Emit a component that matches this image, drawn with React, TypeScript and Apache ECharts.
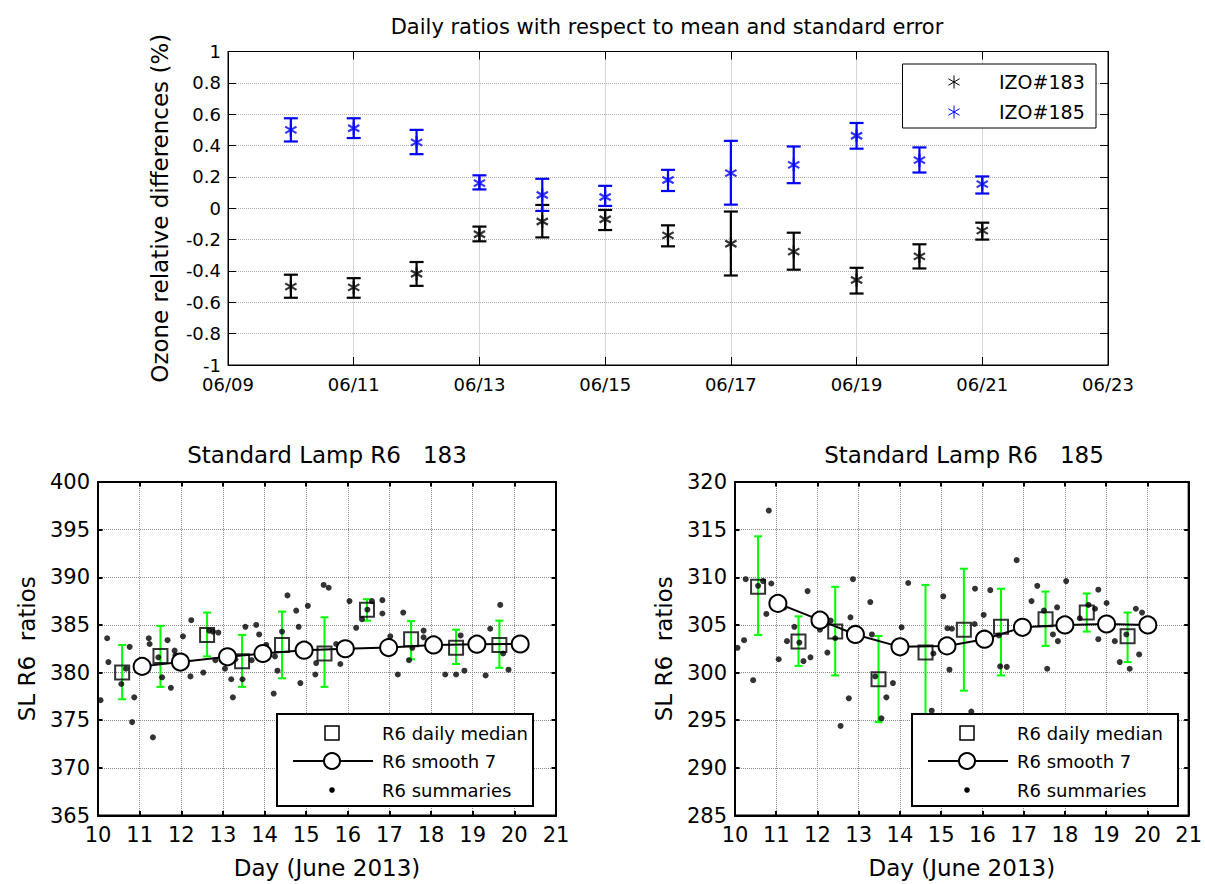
import React, { useEffect, useRef } from 'react';
import * as echarts from 'echarts';

const FONT = 'DejaVu Sans';

// ---------- Top panel: daily ratios ----------
const topTickLabels = ['06/09', '06/11', '06/13', '06/15', '06/17', '06/19', '06/21', '06/23'];
const topFirstDay = 9;
const topDays = [10, 11, 12, 13, 14, 15, 16, 17, 18, 19, 20, 21];
const izo183 = [-0.5, -0.505, -0.418, -0.166, -0.085, -0.07, -0.173, -0.226, -0.277, -0.458, -0.307, -0.143];
const izo183Lo = [-0.571, -0.571, -0.495, -0.211, -0.186, -0.139, -0.243, -0.429, -0.392, -0.544, -0.384, -0.2];
const izo183Hi = [-0.424, -0.446, -0.343, -0.117, 0.021, -0.011, -0.109, -0.021, -0.156, -0.38, -0.23, -0.092];
const izo185 = [0.5, 0.51, 0.42, 0.16, 0.085, 0.072, 0.18, 0.224, 0.277, 0.463, 0.307, 0.154];
const izo185Lo = [0.426, 0.448, 0.345, 0.12, -0.017, 0.015, 0.11, 0.023, 0.16, 0.38, 0.228, 0.094];
const izo185Hi = [0.574, 0.574, 0.5, 0.21, 0.188, 0.143, 0.245, 0.43, 0.394, 0.544, 0.388, 0.203];

// ---------- Bottom-left: Standard Lamp R6 183 ----------
const medDay183 = [10.58, 11.5, 12.62, 13.46, 14.42, 15.44, 16.46, 17.52, 18.6, 19.64];
const med183 = [380.0, 381.75, 383.95, 381.2, 382.9, 382.0, 386.6, 383.5, 382.6, 382.9];
const med183Lo = [377.2, 378.5, 381.7, 378.5, 379.4, 378.5, 385.45, 381.4, 380.9, 380.5];
const med183Hi = [382.9, 384.9, 386.3, 383.95, 386.4, 385.8, 387.7, 385.4, 384.5, 385.45];
const smDay183 = [11.06, 11.98, 13.11, 13.96, 14.95, 15.94, 16.98, 18.06, 19.1, 20.14];
const sm183 = [380.65, 381.1, 381.65, 382.0, 382.35, 382.5, 382.62, 382.9, 382.98, 383.0];
const sumDay183 = [
  10.06, 10.22, 10.25, 10.56, 10.67, 10.76, 10.82, 10.87, 11.22, 11.24, 11.32, 11.45, 11.54, 11.67,
  11.75, 11.84, 11.86, 12.04, 12.22, 12.24, 12.53, 12.67, 12.76, 12.82, 12.89, 13.05, 13.2, 13.24,
  13.3, 13.47, 13.54, 13.69, 13.8, 13.87, 14.04, 14.22, 14.25, 14.31, 14.42, 14.55, 14.76, 14.82,
  14.86, 15.04, 15.22, 15.24, 15.42, 15.54, 15.72, 15.82, 15.94, 16.04, 16.2, 16.34, 16.47, 16.58,
  16.83, 16.83, 17.02, 17.2, 17.33, 17.47, 17.55, 17.82, 17.82, 18.02, 18.16, 18.34, 18.6, 18.71,
  18.8, 19.31, 19.42, 19.66, 19.73, 19.86,
];
const sumVal183 = [
  377.1, 383.6, 381.1, 378.8, 380.4, 382.7, 374.8, 377.4, 383.6, 383.0, 373.2, 381.6, 379.5, 383.4,
  378.4, 382.3, 381.8, 383.8, 379.6, 385.5, 380.0, 384.4, 384.3, 381.3, 384.2, 380.4, 379.3, 377.4,
  381.4, 379.3, 384.8, 381.3, 385.0, 384.0, 382.9, 377.8, 381.7, 380.2, 384.3, 388.1, 386.5, 384.8,
  378.9, 387.0, 379.8, 381.0, 389.2, 388.9, 383.0, 380.9, 382.3, 387.5, 384.7, 385.6, 386.6, 387.5,
  387.6, 386.2, 383.8, 379.8, 386.3, 381.3, 382.6, 384.4, 383.7, 383.1, 382.8, 379.8, 379.8, 383.9,
  380.2, 379.7, 384.6, 387.1, 382.0, 380.3,
];

// ---------- Bottom-right: Standard Lamp R6 185 ----------
const medDay185 = [10.56, 11.54, 12.43, 13.48, 14.62, 15.55, 16.45, 17.53, 18.53, 19.52];
const med185 = [309.0, 303.26, 304.3, 299.3, 302.1, 304.5, 304.8, 305.6, 306.3, 303.8];
const med185Lo = [303.95, 300.7, 299.7, 294.8, 295.0, 298.1, 299.7, 302.8, 304.3, 301.1];
const med185Hi = [314.3, 305.9, 309.0, 303.85, 309.2, 310.9, 308.8, 308.5, 308.3, 306.3];
const smDay185 = [11.04, 12.06, 12.92, 14.0, 15.14, 16.05, 16.97, 18.0, 19.01, 20.01];
const sm185 = [307.26, 305.5, 304.0, 302.7, 302.8, 303.5, 304.75, 305.0, 305.1, 305.0];
const sumDay185 = [
  10.06, 10.22, 10.26, 10.44, 10.56, 10.68, 10.76, 10.82, 10.88, 11.06, 11.2, 11.26, 11.44, 11.56,
  11.66, 11.76, 11.83, 12.06, 12.16, 12.24, 12.32, 12.43, 12.56, 12.76, 12.8, 12.86, 13.28, 13.32,
  13.4, 13.55, 13.67, 13.83, 14.04, 14.2, 14.77, 14.81, 15.05, 15.15, 15.2, 15.26, 15.73, 15.81,
  15.82, 16.03, 16.19, 16.4, 16.43, 16.59, 16.83, 17.19, 17.33, 17.49, 17.57, 17.71, 17.81, 17.83,
  18.03, 18.36, 18.57, 18.73, 18.81, 18.81, 19.01, 19.21, 19.33, 19.49, 19.57, 19.72, 19.8, 19.87,
];
const sumVal185 = [
  302.6, 303.4, 309.8, 299.2, 309.1, 309.6, 306.15, 317.0, 309.35, 301.4, 306.85, 303.3, 304.8, 303.15,
  301.2, 308.55, 301.6, 304.5, 305.2, 302.1, 305.45, 303.6, 294.4, 297.3, 305.8, 309.8, 307.4, 304.0,
  299.6, 295.2, 297.4, 298.9, 304.75, 309.4, 296.0, 302.0, 308.0, 304.65, 300.3, 304.6, 295.9, 305.1,
  308.8, 306.05, 308.65, 303.9, 300.65, 300.6, 311.8, 307.5, 309.1, 306.5, 300.4, 304.0, 306.85, 303.3,
  309.6, 305.7, 307.1, 306.7, 303.5, 308.7, 307.3, 303.3, 301.1, 304.0, 300.4, 306.7, 301.9, 306.3,
];

const ASTERISK = 'path://M0,-13L0,13M-11.26,-6.5L11.26,6.5M-11.26,6.5L11.26,-6.5';

const errBar = (color: string, lw: number, cap: number) => (_params: any, api: any) => {
  const x = api.value(0);
  const a = api.coord([x, api.value(1)]);
  const b = api.coord([x, api.value(2)]);
  const st = { stroke: color, lineWidth: lw, fill: null };
  return {
    type: 'group',
    children: [
      { type: 'line', shape: { x1: a[0], y1: a[1], x2: b[0], y2: b[1] }, style: st },
      { type: 'line', shape: { x1: a[0] - cap / 2, y1: a[1], x2: a[0] + cap / 2, y2: a[1] }, style: st },
      { type: 'line', shape: { x1: b[0] - cap / 2, y1: b[1], x2: b[0] + cap / 2, y2: b[1] }, style: st },
    ],
  };
};

const mainAxis = (lw: number, tickLen: number, gridColor: string, fontSize: number, margin: number) => ({
  axisLine: { show: true, onZero: false, lineStyle: { color: '#000', width: lw } },
  axisTick: { show: true, inside: true, length: tickLen, lineStyle: { color: '#000', width: lw } },
  axisLabel: { show: true, color: '#000', fontFamily: FONT, fontSize, margin, showMinLabel: true, showMaxLabel: true },
  splitLine: { show: true, lineStyle: { type: 'dotted', color: gridColor, width: 1 } },
});

const sideAxis = (lw: number, tickLen: number) => ({
  axisLine: { show: true, onZero: false, lineStyle: { color: '#000', width: lw } },
  axisTick: { show: true, inside: true, length: tickLen, lineStyle: { color: '#000', width: lw } },
  axisLabel: { show: false },
  splitLine: { show: false },
});

const zz = 100;
const asteriskLines = (cx: number, cy: number, color: string) => {
  const st = { stroke: color, lineWidth: 1 };
  return [
    { type: 'line', z: zz, shape: { x1: cx, y1: cy - 6.5, x2: cx, y2: cy + 6.5 }, style: st },
    { type: 'line', z: zz, shape: { x1: cx - 5.6, y1: cy - 3.25, x2: cx + 5.6, y2: cy + 3.25 }, style: st },
    { type: 'line', z: zz, shape: { x1: cx - 5.6, y1: cy + 3.25, x2: cx + 5.6, y2: cy - 3.25 }, style: st },
  ];
};

const legendText = (x: number, y: number, text: string, size: number) => ({
  type: 'text',
  z: zz,
  x,
  y,
  style: { text, fill: '#000', fontFamily: FONT, fontSize: size, align: 'left', verticalAlign: 'middle' },
});

const slLegend = (x: number, y: number, w: number) => ({
  type: 'group',
  x,
  y,
  z: zz,
  children: [
    { type: 'rect', z: zz, shape: { x: 0, y: 0, width: w, height: 92 }, style: { fill: '#fff', stroke: '#000', lineWidth: 2 } },
    { type: 'rect', z: zz, shape: { x: 55 - 7, y: 19 - 7, width: 14, height: 14 }, style: { fill: 'none', stroke: '#000', lineWidth: 1.5 } },
    { type: 'line', z: zz, shape: { x1: 16, y1: 47, x2: 96, y2: 47 }, style: { stroke: '#000', lineWidth: 2 } },
    { type: 'circle', z: zz + 1, shape: { cx: 55, cy: 47, r: 8 }, style: { fill: '#fff', stroke: '#000', lineWidth: 2 } },
    { type: 'circle', z: zz, shape: { cx: 55, cy: 76, r: 2.8 }, style: { fill: '#000' } },
    legendText(105, 19, 'R6 daily median', 18),
    legendText(105, 47, 'R6 smooth 7', 18),
    legendText(105, 76, 'R6 summaries', 18),
  ],
});

function buildOption() {
  const titleStyle = (size: number) => ({ fontFamily: FONT, fontSize: size, fontWeight: 'normal', color: '#000' });
  const zip = (xs: number[], ys: number[]) => xs.map((x, i) => [x, ys[i]]);
  const zip3 = (xs: number[], a: number[], b: number[]) => xs.map((x, i) => [x, a[i], b[i]]);
  const topX = topDays.map((d) => d - topFirstDay);

  const slSeries = (axisIdx: number, md: number[], m: number[], lo: number[], hi: number[], sd: number[], s: number[], dd: number[], dv: number[]) => [
    {
      type: 'custom',
      xAxisIndex: axisIdx,
      yAxisIndex: axisIdx,
      renderItem: errBar('#00ff00', 2, 8),
      encode: { x: 0, y: [1, 2] },
      data: zip3(md, lo, hi),
      z: 2,
    },
    {
      type: 'scatter',
      xAxisIndex: axisIdx,
      yAxisIndex: axisIdx,
      symbol: 'circle',
      symbolSize: 6,
      itemStyle: { color: '#000' },
      data: zip(dd, dv),
      z: 3,
    },
    {
      type: 'scatter',
      xAxisIndex: axisIdx,
      yAxisIndex: axisIdx,
      symbol: 'rect',
      symbolSize: 14,
      itemStyle: { color: 'rgba(0,0,0,0)', borderColor: '#000', borderWidth: 2 },
      data: zip(md, m),
      z: 4,
    },
    {
      type: 'line',
      xAxisIndex: axisIdx,
      yAxisIndex: axisIdx,
      symbol: 'circle',
      symbolSize: 17,
      showAllSymbol: true,
      itemStyle: { color: '#fff', borderColor: '#000', borderWidth: 2 },
      lineStyle: { color: '#000', width: 2 },
      data: zip(sd, s),
      z: 5,
    },
  ];

  return {
    animation: false,
    backgroundColor: '#fff',
    title: [
      {
        text: 'Daily ratios with respect to mean and standard error',
        left: 667,
        top: 27,
        textAlign: 'center',
        textVerticalAlign: 'middle',
        padding: 0,
        textStyle: titleStyle(21),
      },
      {
        text: 'Standard Lamp R6   183',
        left: 327,
        top: 455,
        textAlign: 'center',
        textVerticalAlign: 'middle',
        padding: 0,
        textStyle: titleStyle(23),
      },
      {
        text: 'Standard Lamp R6   185',
        left: 964,
        top: 455,
        textAlign: 'center',
        textVerticalAlign: 'middle',
        padding: 0,
        textStyle: titleStyle(23),
      },
    ],
    grid: [
      { left: 228, top: 51.5, width: 880, height: 313.5, show: true, borderColor: '#000', borderWidth: 1, backgroundColor: '#fff' },
      { left: 98, top: 482, width: 458, height: 333.5, show: true, borderColor: '#000', borderWidth: 2, backgroundColor: '#fff' },
      { left: 735, top: 482, width: 458, height: 333.5, show: true, borderColor: '#000', borderWidth: 2, backgroundColor: '#fff' },
    ],
    xAxis: [
      {
        type: 'value', gridIndex: 0, min: 0, max: 14, interval: 2,
        ...mainAxis(1, 8, '#b0b0b0', 18, 10),
        axisLabel: {
          show: true, color: '#000', fontFamily: FONT, fontSize: 18, margin: 10, showMinLabel: true, showMaxLabel: true,
          formatter: (v: number) => topTickLabels[Math.round(v / 2)] ?? '',
        },
      },
      { type: 'value', gridIndex: 0, min: 0, max: 14, interval: 2, position: 'top', ...sideAxis(1, 8) },
      {
        type: 'value', gridIndex: 1, min: 10, max: 21, interval: 1,
        ...mainAxis(2, 4.5, '#8a8a8a', 21, 9),
        name: 'Day (June 2013)', nameLocation: 'middle', nameGap: 41,
        nameTextStyle: { fontFamily: FONT, fontSize: 23, color: '#000' },
      },
      { type: 'value', gridIndex: 1, min: 10, max: 21, interval: 1, position: 'top', ...sideAxis(2, 4.5) },
      {
        type: 'value', gridIndex: 2, min: 10, max: 21, interval: 1,
        ...mainAxis(2, 4.5, '#8a8a8a', 21, 9),
        name: 'Day (June 2013)', nameLocation: 'middle', nameGap: 41,
        nameTextStyle: { fontFamily: FONT, fontSize: 23, color: '#000' },
      },
      { type: 'value', gridIndex: 2, min: 10, max: 21, interval: 1, position: 'top', ...sideAxis(2, 4.5) },
    ],
    yAxis: [
      {
        type: 'value', gridIndex: 0, min: -1, max: 1, interval: 0.2,
        ...mainAxis(1, 8, '#b0b0b0', 18, 7),
        axisLabel: {
          show: true, color: '#000', fontFamily: FONT, fontSize: 18, margin: 7, showMinLabel: true, showMaxLabel: true,
          formatter: (v: number) => String(Math.round(v * 10) / 10 || 0),
        },
        name: 'Ozone relative differences (%)', nameLocation: 'middle', nameGap: 57,
        nameTextStyle: { fontFamily: FONT, fontSize: 23, color: '#000' },
      },
      { type: 'value', gridIndex: 0, min: -1, max: 1, interval: 0.2, position: 'right', ...sideAxis(1, 8) },
      {
        type: 'value', gridIndex: 1, min: 365, max: 400, interval: 5,
        ...mainAxis(2, 4.5, '#8a8a8a', 21, 8),
        name: 'SL R6  ratios', nameLocation: 'middle', nameGap: 60,
        nameTextStyle: { fontFamily: FONT, fontSize: 23, color: '#000' },
      },
      { type: 'value', gridIndex: 1, min: 365, max: 400, interval: 5, position: 'right', ...sideAxis(2, 4.5) },
      {
        type: 'value', gridIndex: 2, min: 285, max: 320, interval: 5,
        ...mainAxis(2, 4.5, '#8a8a8a', 21, 8),
        name: 'SL R6  ratios', nameLocation: 'middle', nameGap: 60,
        nameTextStyle: { fontFamily: FONT, fontSize: 23, color: '#000' },
      },
      { type: 'value', gridIndex: 2, min: 285, max: 320, interval: 5, position: 'right', ...sideAxis(2, 4.5) },
    ],
    series: [
      {
        type: 'custom', name: 'IZO#183 err', xAxisIndex: 0, yAxisIndex: 0,
        renderItem: errBar('#000', 2.2, 14), encode: { x: 0, y: [1, 2] },
        data: zip3(topX, izo183Lo, izo183Hi), z: 2,
      },
      {
        type: 'custom', name: 'IZO#185 err', xAxisIndex: 0, yAxisIndex: 0,
        renderItem: errBar('#0000ff', 2.2, 14), encode: { x: 0, y: [1, 2] },
        data: zip3(topX, izo185Lo, izo185Hi), z: 2,
      },
      {
        type: 'scatter', name: 'IZO#183', xAxisIndex: 0, yAxisIndex: 0,
        symbol: ASTERISK, symbolSize: 13, symbolKeepAspect: true,
        itemStyle: { color: 'rgba(0,0,0,0)', borderColor: '#000', borderWidth: 2.2 },
        data: zip(topX, izo183), z: 3,
      },
      {
        type: 'scatter', name: 'IZO#185', xAxisIndex: 0, yAxisIndex: 0,
        symbol: ASTERISK, symbolSize: 13, symbolKeepAspect: true,
        itemStyle: { color: 'rgba(0,0,0,0)', borderColor: '#0000ff', borderWidth: 2.2 },
        data: zip(topX, izo185), z: 3,
      },
      ...slSeries(2, medDay183, med183, med183Lo, med183Hi, smDay183, sm183, sumDay183, sumVal183),
      ...slSeries(4, medDay185, med185, med185Lo, med185Hi, smDay185, sm185, sumDay185, sumVal185),
    ],
    graphic: [
      {
        type: 'group',
        x: 902.5,
        y: 64,
        z: zz,
        children: [
          { type: 'rect', z: zz, shape: { x: 0, y: 0, width: 193.5, height: 64 }, style: { fill: '#fff', stroke: '#000', lineWidth: 1 } },
          ...asteriskLines(51.5, 18, '#000'),
          ...asteriskLines(51.5, 48, '#0000ff'),
          legendText(96.5, 18, 'IZO#183', 19),
          legendText(96.5, 48, 'IZO#185', 19),
        ],
      },
      slLegend(277, 714, 256),
      slLegend(912, 714, 266),
    ],
  };
}

export default function App() {
  const ref = useRef<HTMLDivElement>(null);
  useEffect(() => {
    document.body.style.margin = '0';
    const chart = echarts.init(ref.current as HTMLDivElement, null, { renderer: 'svg' });
    chart.setOption(buildOption() as any);
    return () => chart.dispose();
  }, []);
  return <div ref={ref} style={{ width: 1205, height: 884 }} />;
}
